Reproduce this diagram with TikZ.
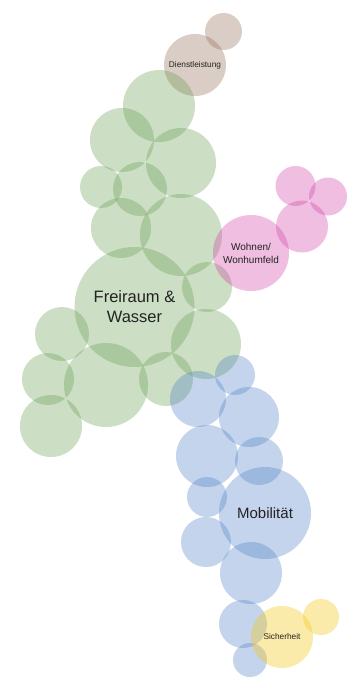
\documentclass[tikz,border=0pt]{standalone}
\usepackage{fontspec}
\setmainfont{Liberation Sans}
\definecolor{cgreen}{RGB}{109,161,86}
\definecolor{cblue}{RGB}{86,132,201}
\definecolor{cpink}{RGB}{212,69,169}
\definecolor{cbrown}{RGB}{149,112,89}
\definecolor{cyellow}{RGB}{246,198,12}
\definecolor{ctext}{RGB}{35,35,35}
\tikzset{
  bub/.style={circle, inner sep=0pt, draw=none, fill opacity=0.35, text opacity=1,
    text=ctext, align=center, minimum size={2*#1*1pt}},
  gb/.style={bub=#1, fill=cgreen},
  bb/.style={bub=#1, fill=cblue},
  pb/.style={bub=#1, fill=cpink},
  nb/.style={bub=#1, fill=cbrown},
  yb/.style={bub=#1, fill=cyellow}
}
\begin{document}
\begin{tikzpicture}[x=1pt,y=-1pt]
\useasboundingbox[fill=white] (0,0) rectangle (353,677);
% brown
\node[nb=18.5] (n1) at (223.5,31.5) {};
\node[nb=31, font=\fontsize{8.3}{10}\selectfont] (n2) at (195,65) {Dienstleistung};
% green
\node[gb=36] (g1) at (159,106) {};
\node[gb=32] (g2) at (122,140) {};
\node[gb=35] (g3) at (181,163) {};
\node[gb=21] (g4) at (101,187) {};
\node[gb=27] (g5) at (140,189) {};
\node[gb=30] (g6) at (121,228) {};
\node[gb=41] (g7) at (181,235) {};
\node[gb=25] (g8) at (207,287) {};
\node[gb=35] (g9) at (206,344) {};
\node[gb=27] (g10) at (62,334) {};
\node[gb=26] (g11) at (48,379) {};
\node[gb=42] (g12) at (106,385) {};
\node[gb=31] (g13) at (51,426) {};
\node[gb=27] (g14) at (166,379) {};
\node[gb=60, font=\fontsize{16.5}{20}\selectfont] (g15) at (134.5,307) {Freiraum \&\\Wasser};
% pink
\node[pb=20] (p1) at (295.5,186) {};
\node[pb=19] (p2) at (328,196.5) {};
\node[pb=26] (p3) at (302,226.5) {};
\node[pb=38, font=\fontsize{10}{13}\selectfont] (p4) at (251,253) {Wohnen/\\Wonhumfeld};
% blue
\node[bb=20] (b1) at (235,375) {};
\node[bb=28] (b2) at (198,399) {};
\node[bb=30] (b3) at (249,417) {};
\node[bb=31] (b4) at (207,456) {};
\node[bb=24] (b5) at (259,461) {};
\node[bb=20] (b6) at (207,497) {};
\node[bb=25] (b8) at (206,542) {};
\node[bb=31] (b9) at (251,573) {};
\node[bb=24] (b10) at (243,624) {};
\node[bb=17] (b11) at (250,660) {};
\node[bb=46, font=\fontsize{15}{18}\selectfont] (b7) at (265,513) {Mobilität};
% yellow
\node[yb=18] (y1) at (321,617) {};
\node[yb=31, font=\fontsize{8.3}{10}\selectfont] (y2) at (282,637) {Sicherheit};
\end{tikzpicture}
\end{document}
